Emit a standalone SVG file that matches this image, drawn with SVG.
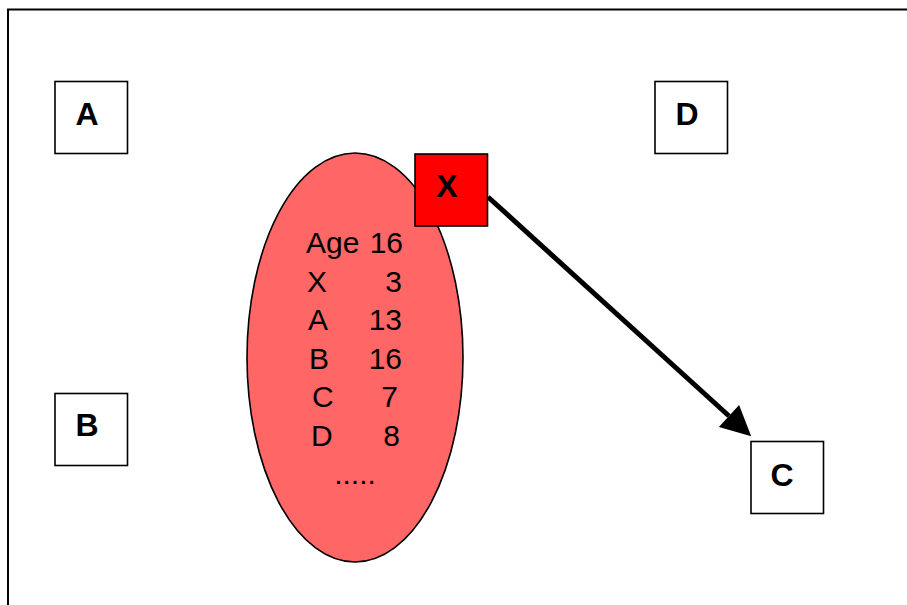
<svg xmlns="http://www.w3.org/2000/svg" width="907" height="605" viewBox="0 0 907 605">
  <style>
    .box { fill: #ffffff; stroke: #000000; stroke-width: 1.6; }
    .xbox { fill: #ff0000; stroke: #000000; stroke-width: 1.6; }
    .lbl { font-family: "Liberation Sans", Arial, sans-serif; font-weight: bold; font-size: 32px; text-anchor: middle; fill: #000000; }
    .row { font-family: "Liberation Sans", Arial, sans-serif; font-size: 30px; fill: #000000; }
    .num { text-anchor: end; }
    .edge { stroke: #000000; stroke-width: 5; fill: none; }
  </style>
  <defs>
    <marker id="arrowhead" markerUnits="userSpaceOnUse" markerWidth="31" markerHeight="31" refX="0" refY="15" orient="auto" overflow="visible">
      <path d="M0,0 L30,15 L0,30 Z" fill="#000000"/>
    </marker>
  </defs>

  <rect width="907" height="605" fill="#ffffff"/>
  <!-- outer frame, open to the right and bottom -->
  <path d="M8,610 V9.5 H912" fill="none" stroke="#000000" stroke-width="2"/>

  <!-- population ellipse with its table -->
  <g id="population">
    <ellipse cx="355" cy="357.5" rx="108" ry="204.5" fill="#ff6666" stroke="#000000" stroke-width="1.6"/>
    <text class="row" x="306" y="253">Age</text><text class="row num" x="403" y="253">16</text>
    <text class="row" x="307" y="291.5">X</text><text class="row num" x="402" y="291.5">3</text>
    <text class="row" x="308" y="330">A</text><text class="row num" x="402" y="330">13</text>
    <text class="row" x="309" y="368.5">B</text><text class="row num" x="402" y="368.5">16</text>
    <text class="row" x="312" y="407">C</text><text class="row num" x="398" y="407">7</text>
    <text class="row" x="311" y="445.5">D</text><text class="row num" x="400" y="445.5">8</text>
    <text class="row" x="355" y="484" text-anchor="middle">.....</text>
  </g>

  <g id="node-A">
    <rect class="box" x="55" y="81.5" width="72.5" height="72"/>
    <text class="lbl" x="87" y="124.5">A</text>
  </g>
  <g id="node-D">
    <rect class="box" x="655" y="81.5" width="72.5" height="72"/>
    <text class="lbl" x="687" y="124.5">D</text>
  </g>
  <g id="node-B">
    <rect class="box" x="55" y="393.5" width="72.5" height="72"/>
    <text class="lbl" x="87" y="435.5">B</text>
  </g>
  <g id="node-C">
    <rect class="box" x="751" y="441.5" width="72.5" height="72"/>
    <text class="lbl" x="782" y="485.5">C</text>
  </g>
  <g id="node-X">
    <rect class="xbox" x="415" y="154" width="72.5" height="72"/>
    <text class="lbl" x="447" y="196.5">X</text>
  </g>

  <g id="connectors">
    <line class="edge" x1="488" y1="197" x2="729" y2="416" marker-end="url(#arrowhead)"/>
  </g>
</svg>
